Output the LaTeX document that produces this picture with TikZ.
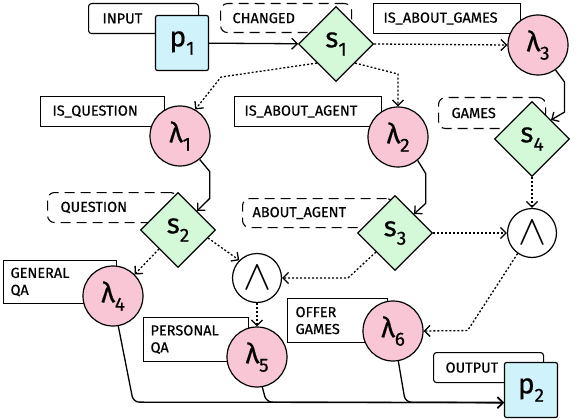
\documentclass[tikz,border=0pt]{standalone}
\usepackage{graphicx}
\usepackage{fontspec}
\setmainfont{Fira Sans}
\newfontfamily\tagfam{Fira Sans}[FakeBold=0.5]
\usetikzlibrary{shapes.geometric, arrows.meta}

\definecolor{placefill}{RGB}{208,242,250}
\definecolor{switchfill}{RGB}{212,249,216}
\definecolor{lambdafill}{RGB}{249,198,214}

\newcommand\symfont{\tagfam\fontsize{28}{30}\selectfont}
\newcommand\tagfont{\tagfam\fontsize{14.5}{17}\selectfont}
\newcommand\idx[1]{\raisebox{-0.3em}{\fontsize{19}{19}\selectfont #1}}
\newcommand\andsym{\scalebox{4.2}{$\wedge$}}

\begin{document}
\begin{tikzpicture}[
    x=1pt, y=-1pt,
    place/.style={
        rectangle,
        draw,
        line width=1.2pt,
        fill=placefill,
        rounded corners=2pt,
        minimum width=53pt,
        minimum height=55pt,
        inner sep=0pt,
        font=\symfont
    },
    switch/.style={
        diamond,
        draw,
        line width=1.2pt,
        fill=switchfill,
        minimum width=75pt,
        minimum height=75pt,
        inner sep=0pt,
        font=\symfont
    },
    lambda/.style={
        circle,
        draw,
        line width=1.2pt,
        fill=lambdafill,
        minimum size=60pt,
        inner sep=0pt,
        font=\symfont
    },
    andgate/.style={
        circle,
        draw,
        line width=1.2pt,
        fill=white,
        minimum size=49pt,
        inner sep=0pt,
        font=\fontsize{10}{10}\selectfont
    },
    tag/.style={
        rectangle,
        draw,
        line width=1.1pt,
        fill=white,
        anchor=north west,
        align=left,
        inner xsep=10pt,
        inner ysep=0pt,
        minimum height=30pt,
        font=\tagfont
    },
    cond/.style={
        tag,
        dash pattern=on 10pt off 6pt,
        rounded corners=7pt
    },
    line/.style={
        draw,
        line width=1.3pt,
        -{Straight Barb[length=5.5pt,width=11pt]}
    },
    dotline/.style={
        line,
        dash pattern=on 2pt off 2pt
    }
]
\useasboundingbox (0,0) rectangle (582,420);

% Labels (behind the nodes)
\node [tag, rounded corners=3pt, inner xsep=14pt, text width=82pt] (inputtag) at (88,3) {INPUT};
\node [cond, inner xsep=12pt, text width=107pt, minimum height=29pt] (changedtag) at (220,3) {CHANGED};
\node [tag, text width=127pt] (gamestagq) at (373,3) {IS\_ABOUT\_GAMES};
\node [tag, inner xsep=12pt, text width=100pt] (questiontagq) at (40,96) {IS\_QUESTION};
\node [tag, text width=127pt] (agenttagq) at (234,96) {IS\_ABOUT\_AGENT};
\node [cond, inner xsep=13pt, text width=81pt, minimum height=31pt] (gamestag) at (438,97) {GAMES};
\node [cond, inner xsep=13pt, text width=104pt] (questiontag) at (47,192) {QUESTION};
\node [cond, text width=131pt, minimum height=29pt] (agenttag) at (242,198) {ABOUT\_AGENT};
\node [tag, inner xsep=7pt, text width=99pt, minimum height=43pt] (generaltag) at (3,260) {GENERAL\\QA};
\node [tag, inner xsep=7pt, text width=91pt, minimum height=44pt] (personaltag) at (143,317) {PERSONAL\\QA};
\node [tag, inner xsep=8pt, text width=84pt, minimum height=44pt] (offertag) at (287,298) {OFFER\\GAMES};
\node [tag, rounded corners=3pt, inner xsep=12pt, text width=86pt] (outputtag) at (433,352) {OUTPUT};

% Nodes
\node [place] (p1) at (182,43) {p\idx{1}};
\node [switch] (s1) at (336,44) {s\idx{1}};
\node [lambda] (l3) at (538,45) {λ\idx{3}};
\node [lambda] (l1) at (180,136) {λ\idx{1}};
\node [lambda] (l2) at (398,137) {λ\idx{2}};
\node [switch] (s4) at (532,139) {s\idx{4}};
\node [switch] (s2) at (178,230) {s\idx{2}};
\node [switch] (s3) at (395,233) {s\idx{3}};
\node [andgate] (andr) at (532,233) {\andsym};
\node [andgate] (andl) at (257,278) {\andsym};
\node [lambda] (l4) at (113,296) {λ\idx{4}};
\node [lambda] (l6) at (393,331) {λ\idx{6}};
\node [lambda] (l5) at (257,357) {λ\idx{5}};
\node [place] (p2) at (531,390) {p\idx{2}};

% Connections
\path [line] (p1) -- (s1);
\path [dotline] (s1.east) -- (l3.west);
\path [dotline] (s1.south west) -- ++(-96,14) -- (l1.60);
\path [dotline] (s1.south east) -- ++(43,11) -- (l2.north);

\path [line] (l1.-50) -- ++(10,12) -- ++(0,27) -- (s2.north east);
\path [line] (l2.-50) -- ++(8,13) -- ++(0,30) -- (s3.north east);
\path [line] (l3.-55) -- ++(9,12) -- ++(0,30) -- (s4.north east);

\path [dotline] (s4.south) -- (andr.north);
\path [dotline] (s3.east) -- (andr.west);
\path [dotline] (s3.south west) -- ++(-28,26) -- (andl.east);
\path [dotline] (s2.-15) -- (andl.north west);
\path [dotline] (s2.south west) -- (l4.north east);
\path [dotline] (andl.south) -- (l5.north);
\path [dotline] (andr.-125) -- ++(-50,77) -- (l6.east);

% Merge into the output place
\path [line, rounded corners=6pt] (l4.-80) -- ++(15,76) -- (p2.-155);
\path [line, rounded corners=6pt] (l5.-80) -- ++(4,15) -- (p2.-155);
\path [line, rounded corners=6pt] (l6.-80) -- ++(7,41) -- (p2.-155);

\end{tikzpicture}
\end{document}
